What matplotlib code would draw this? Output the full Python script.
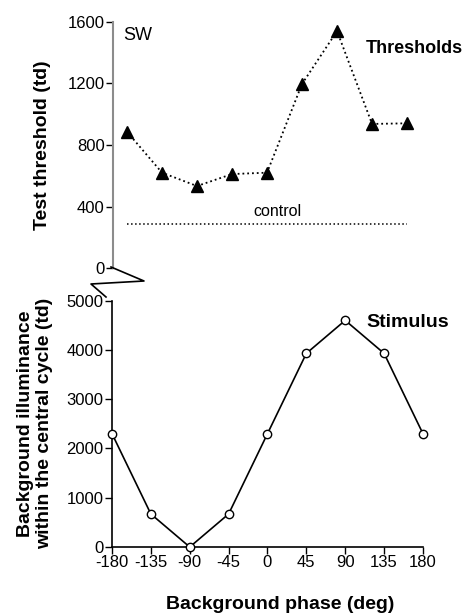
import matplotlib.pyplot as plt
from matplotlib.lines import Line2D

plt.rcParams['font.family'] = ['Liberation Sans', 'DejaVu Sans']

# phase of background (deg)
fases = [-180, -135, -90, -45, 0, 45, 90, 135, 180]

# test thresholds (td), SW
limiares = [886, 620, 533, 611, 620, 1197, 1541, 937, 941]
controle = 286

# background illuminance in the central cycle (td)
iluminancia = [2300, 670, 0, 670, 2300, 3930, 4600, 3930, 2300]

fig = plt.figure(figsize=(4.74, 6.14), dpi=100)

# top panel: thresholds
ax1 = fig.add_axes([0.2384, 0.5635, 0.654, 0.4007])
ax1.plot(fases, limiares, linestyle=':', color='black', lw=1.3,
         marker='^', ms=8, mfc='black', mec='black', clip_on=False)
ax1.plot([fases[0], fases[-1]], [controle, controle], linestyle=':', color='black', lw=1.1)
ax1.text(13, 320, 'control', fontsize=11.5, ha='center', va='bottom')
ax1.text(-185, 1515, 'SW', fontsize=13, ha='left', va='center')
ax1.text(127, 1425, 'Thresholds', fontsize=13, fontweight='bold', ha='left', va='center')
ax1.set_xlim(-198, 200.5)
ax1.set_ylim(0, 1600)
ax1.set_yticks([0, 400, 800, 1200, 1600])
ax1.set_xticks([])
for s in ['top', 'right', 'bottom']:
    ax1.spines[s].set_visible(False)
ax1.spines['left'].set_color('#8c8c8c')
ax1.spines['left'].set_linewidth(1.5)
ax1.tick_params(axis='y', direction='out', length=5, width=1, color='black',
                labelsize=12, pad=1)
ax1.set_ylabel('Test threshold (td)', fontsize=14, fontweight='bold', labelpad=12)
ax1.patch.set_alpha(0)

# bottom panel: stimulus
ax2 = fig.add_axes([0.2363, 0.1091, 0.656, 0.4012])
ax2.plot(fases, iluminancia, linestyle='-', color='black', lw=1.2,
         marker='o', ms=6, mfc='white', mec='black', clip_on=False, zorder=5)
ax2.text(115, 4547, 'Stimulus', fontsize=14, fontweight='bold', ha='left', va='center')
ax2.set_xlim(-180, 180)
ax2.set_ylim(0, 5000)
ax2.set_xticks(fases)
ax2.set_xticklabels([str(f) for f in fases])
ax2.set_yticks([0, 1000, 2000, 3000, 4000, 5000])
for s in ['top', 'right']:
    ax2.spines[s].set_visible(False)
ax2.spines['left'].set_linewidth(1.2)
ax2.spines['bottom'].set_linewidth(1.2)
ax2.tick_params(direction='out', length=5, width=1, labelsize=12, pad=1)
ax2.set_ylabel('Background illuminance\nwithin the central cycle (td)',
               fontsize=14, fontweight='bold', labelpad=10, linespacing=1.1)
ax2.set_xlabel('Background phase (deg)', fontsize=14, fontweight='bold')
ax2.xaxis.set_label_coords(0.54, -0.232)
ax2.xaxis.label.set_va('center')
ax2.patch.set_alpha(0)

# axis break zigzag between panels
W, H = 474, 614
zx = [111, 144, 91, 106]
zy = [267, 281, 284, 297]
fig.add_artist(Line2D([x / W for x in zx], [1 - y / H for y in zy],
                      transform=fig.transFigure, color='black', lw=1.2))

fig.savefig('out.png', dpi=100)
